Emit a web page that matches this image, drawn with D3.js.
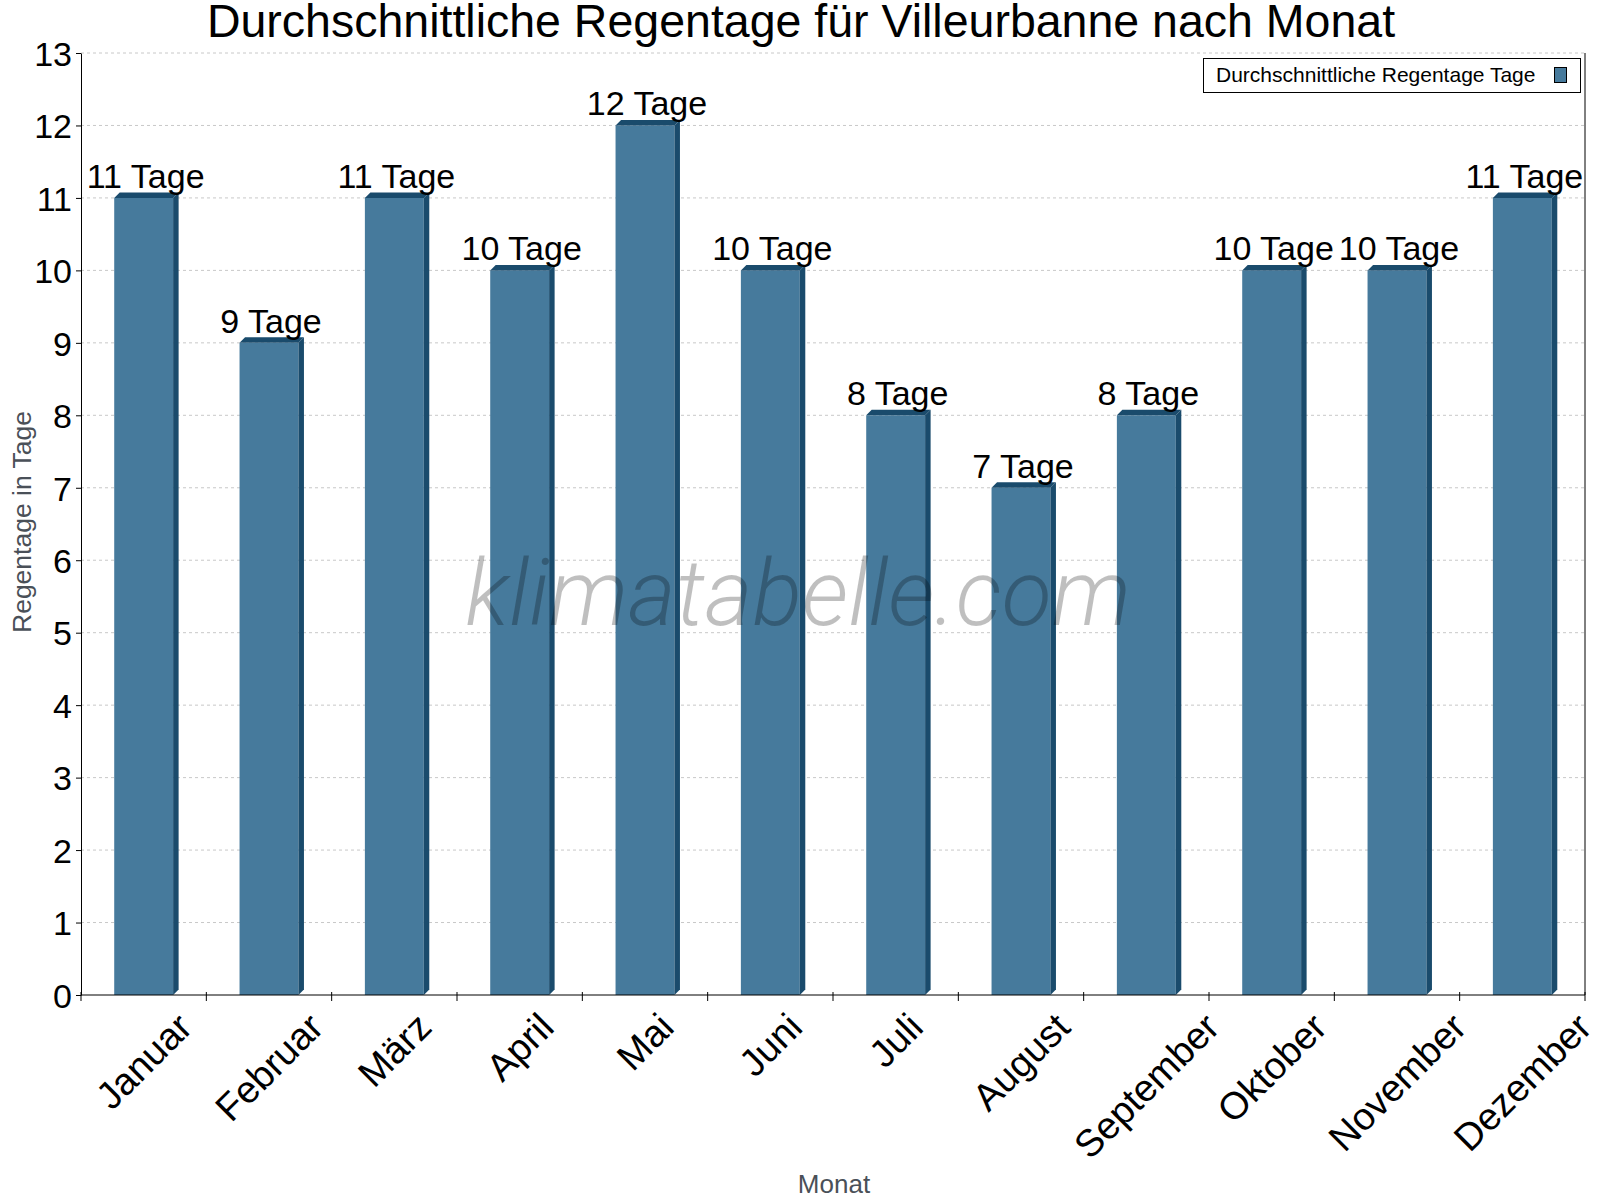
<!DOCTYPE html>
<html>
<head>
<meta charset="utf-8">
<script src="https://cdn.jsdelivr.net/npm/d3@7"></script>
<style>
  body { margin: 0; background: #fff; }
  text { font-family: "Liberation Sans", Arial, sans-serif; }
</style>
</head>
<body>
<svg width="1600" height="1200"></svg>
<script>
// data
var months = ["Januar", "Februar", "März", "April", "Mai", "Juni", "Juli", "August", "September", "Oktober", "November", "Dezember"];
var rainDays = [11, 9, 11, 10, 12, 10, 8, 7, 8, 10, 10, 11];
var yTicks = [0, 1, 2, 3, 4, 5, 6, 7, 8, 9, 10, 11, 12, 13];

var svg = d3.select("svg"),
    plotLeft = 81, plotRight = 1585, plotTop = 53, plotBottom = 995;

var x = d3.scaleBand().domain(months).range([plotLeft, plotRight]).padding(0);
var y = d3.scaleLinear().domain([0, 13]).range([plotBottom, plotTop]);

var front = "#467a9c", dark = "#1a4b6c", depth = 5.5;

// title
svg.append("text")
    .attr("x", 801).attr("y", 37)
    .attr("text-anchor", "middle")
    .style("font-size", "46.5px")
    .text("Durchschnittliche Regentage für Villeurbanne nach Monat");

// dashed grid lines
svg.append("g").selectAll("line")
    .data(yTicks.slice(1))
    .enter().append("line")
    .attr("x1", plotLeft).attr("x2", plotRight)
    .attr("y1", function(d) { return y(d); })
    .attr("y2", function(d) { return y(d); })
    .attr("stroke", "#c8c8c8")
    .attr("stroke-dasharray", "3,3");

// bars with a small 3d edge
var bw = x.bandwidth() * 0.47;
var bars = svg.append("g").selectAll("g")
    .data(months)
    .enter().append("g");

bars.each(function(m, i) {
    var g = d3.select(this),
        x0 = x(m) + (x.bandwidth() - bw) / 2,
        x1 = x0 + bw,
        yt = y(rainDays[i]),
        yb = y(0);
    g.append("rect")
        .attr("x", x0).attr("y", yt)
        .attr("width", bw).attr("height", yb - yt)
        .attr("fill", front);
    // top face
    g.append("path")
        .attr("d", "M" + x0 + "," + yt + "L" + (x0 + depth) + "," + (yt - depth) +
                   "L" + (x1 + depth) + "," + (yt - depth) + "L" + x1 + "," + yt + "Z")
        .attr("fill", dark);
    // side face
    g.append("path")
        .attr("d", "M" + x1 + "," + yt + "L" + (x1 + depth) + "," + (yt - depth) +
                   "L" + (x1 + depth) + "," + (yb - depth) + "L" + x1 + "," + yb + "Z")
        .attr("fill", dark);
    g.append("text")
        .attr("x", x(m) + x.bandwidth() / 2 + 2)
        .attr("y", yt - 10)
        .attr("text-anchor", "middle")
        .style("font-size", "34px")
        .text(rainDays[i] + " Tage");
});

// watermark, semi transparent over the bars
svg.append("text")
    .attr("x", 798).attr("y", 625)
    .attr("text-anchor", "middle")
    .style("font-family", "Roboto")
    .style("font-weight", 300)
    .style("font-style", "italic")
    .style("font-size", "92px")
    .style("fill", "#000")
    .style("fill-opacity", 0.25)
    .text("klimatabelle.com");

// y axis
var yAxis = svg.append("g")
    .attr("transform", "translate(" + plotLeft + ",0)")
    .call(d3.axisLeft(y).tickValues(yTicks).tickSize(5).tickPadding(4).tickSizeOuter(0));
yAxis.select(".domain").attr("stroke", "#000");
yAxis.selectAll("text").style("font-size", "34px").attr("dy", "0.36em").attr("fill", "#000");

// x axis: line, right border and ticks on band boundaries
svg.append("line")
    .attr("x1", plotLeft).attr("x2", plotRight)
    .attr("y1", plotBottom).attr("y2", plotBottom)
    .attr("stroke", "#000");
svg.append("line")
    .attr("x1", plotRight).attr("x2", plotRight)
    .attr("y1", plotTop).attr("y2", plotBottom)
    .attr("stroke", "#000");
svg.append("g").selectAll("line")
    .data(d3.range(months.length + 1))
    .enter().append("line")
    .attr("x1", function(i) { return plotLeft + i * x.step(); })
    .attr("x2", function(i) { return plotLeft + i * x.step(); })
    .attr("y1", plotBottom - 3).attr("y2", plotBottom + 6)
    .attr("stroke", "#000");

// rotated month labels: rotated around their centre, bounding box top just below the axis
svg.append("g").selectAll("text")
    .data(months)
    .enter().append("text")
    .attr("text-anchor", "middle")
    .attr("dy", "0.35em")
    .style("font-size", "38px")
    .text(function(d) { return d; })
    .attr("transform", function(d) {
        var len = this.getComputedTextLength(),
            half = (len + 34) * Math.SQRT1_2 / 2;
        return "translate(" + (x(d) + x.bandwidth() / 2) + "," + (1008 + half) + ") rotate(-45)";
    });

// axis titles
svg.append("text")
    .attr("transform", "translate(31,522) rotate(-90)")
    .attr("text-anchor", "middle")
    .style("font-size", "26.5px")
    .style("fill", "#4a5058")
    .text("Regentage in Tage");

svg.append("text")
    .attr("x", 834).attr("y", 1193)
    .attr("text-anchor", "middle")
    .style("font-size", "26px")
    .style("fill", "#4a5058")
    .text("Monat");

// legend
var legend = svg.append("g");
legend.append("rect")
    .attr("x", 1203.5).attr("y", 58.5)
    .attr("width", 377).attr("height", 34)
    .attr("fill", "#fff").attr("stroke", "#000");
legend.append("text")
    .attr("x", 1216).attr("y", 82)
    .style("font-size", "21px")
    .text("Durchschnittliche Regentage Tage");
legend.append("rect")
    .attr("x", 1554.5).attr("y", 67.5)
    .attr("width", 12).attr("height", 15)
    .attr("fill", front).attr("stroke", "#000");
</script>
</body>
</html>
